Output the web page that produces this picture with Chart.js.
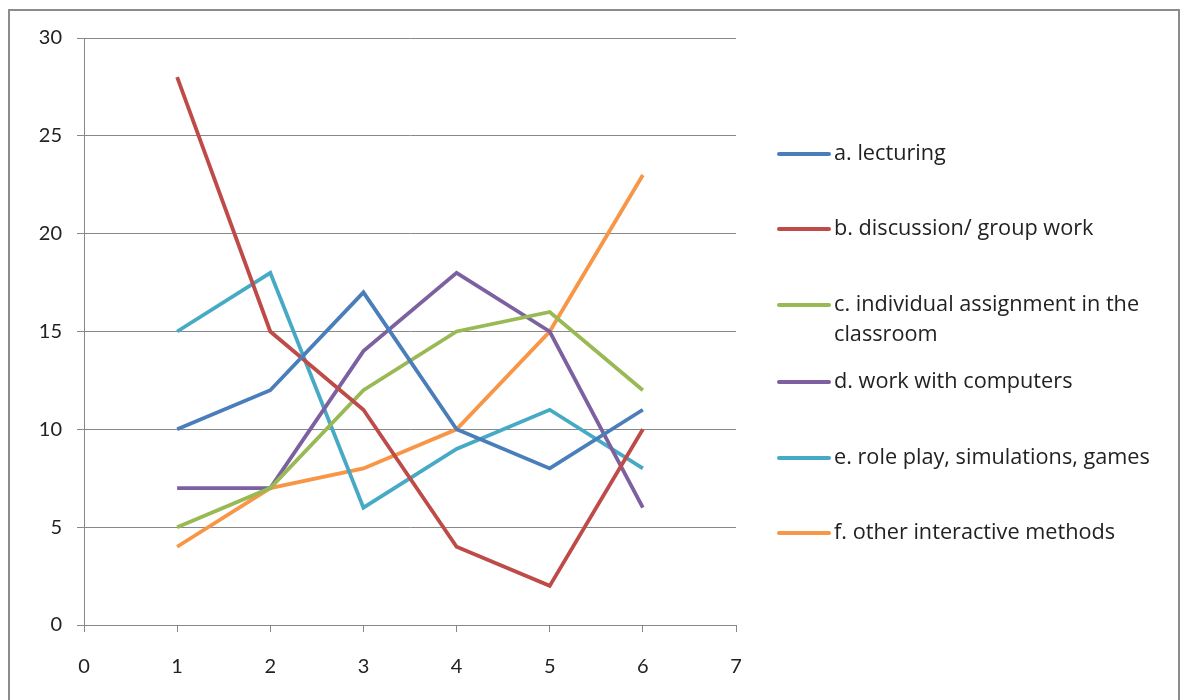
<!DOCTYPE html>
<html><head><meta charset="utf-8">
<script src="https://cdn.jsdelivr.net/npm/chart.js@4"></script>
<style>html,body{margin:0;padding:0;background:#fff;}#wrap{width:1182px;height:700px;position:relative;}</style>
</head><body><div id="wrap"><canvas id="c" width="1182" height="700"></canvas></div>
<script>
const xValues = [1, 2, 3, 4, 5, 6];
const seriesNames = ["a. lecturing", "b. discussion/ group work", "c. individual assignment in the classroom", "d. work with computers", "e. role play, simulations, games", "f. other interactive methods"];
const legendLines = [["a. lecturing"], ["b. discussion/ group work"], ["c. individual assignment in the", "classroom"], ["d. work with computers"], ["e. role play, simulations, games"], ["f. other interactive methods"]];
const lecturing = [10, 12, 17, 10, 8, 11];
const discussion = [28, 15, 11, 4, 2, 10];
const individual = [5, 7, 12, 15, 16, 12];
const computers = [7, 7, 14, 18, 15, 6];
const rolePlay = [15, 18, 6, 9, 11, 8];
const otherMethods = [4, 7, 8, 10, 15, 23];
const colors = ["#4a7ebb", "#be4b48", "#98b954", "#7d60a0", "#46aac5", "#f79646"];
const allSeries = [lecturing, discussion, individual, computers, rolePlay, otherMethods];

const FONT = "Lato, 'Open Sans', sans-serif";
const LEG_FONT = "'Open Sans', sans-serif";

const frame = {
  id: 'frame',
  beforeDraw(chart) {
    const ctx = chart.ctx;
    ctx.save();
    ctx.fillStyle = '#fff';
    ctx.fillRect(0, 0, chart.width, chart.height);
    ctx.strokeStyle = '#8c8c8c';
    ctx.lineWidth = 2;
    ctx.strokeRect(9, 10, 1170, 700);
    ctx.restore();
  },
  afterDraw(chart) {
    const ctx = chart.ctx;
    const legY = [154, 229, 305, 382, 458, 533];
    ctx.save();
    ctx.lineCap = 'round';
    ctx.font = "21.7px " + LEG_FONT;
    ctx.textBaseline = 'middle';
    ctx.fillStyle = '#222';
    chart.data.datasets.forEach((ds, i) => {
      ctx.strokeStyle = ds.borderColor;
      ctx.lineWidth = 4;
      ctx.beginPath();
      ctx.moveTo(779, legY[i]);
      ctx.lineTo(829, legY[i]);
      ctx.stroke();
      legendLines[i].forEach((t, j) => ctx.fillText(t, 834, legY[i] + j * 30));
    });
    ctx.restore();
  }
};

new Chart(document.getElementById('c'), {
  type: 'line',
  data: {
    datasets: allSeries.map((s, i) => ({
      label: seriesNames[i],
      data: s.map((v, k) => ({x: xValues[k], y: v})),
      borderColor: colors[i],
      backgroundColor: colors[i],
      borderWidth: 3.8,
      pointRadius: 0,
      tension: 0,
      fill: false
    }))
  },
  options: {
    responsive: false,
    animation: false,
    layout: {padding: {left: 0, top: 38, right: 1182 - 736, bottom: 0}},
    plugins: {legend: {display: false}, tooltip: {enabled: false}},
    scales: {
      x: {
        type: 'linear', min: 0, max: 7,
        ticks: {stepSize: 1, color: '#222', font: {size: 20, family: FONT}, padding: 23},
        grid: {drawOnChartArea: false, drawTicks: true, tickLength: 7, color: '#888'},
        border: {color: '#888', width: 1},
        afterFit(s) { s.height = 75; }
      },
      y: {
        min: 0, max: 30,
        ticks: {stepSize: 5, color: '#222', font: {size: 20, family: FONT}, padding: 15},
        grid: {color: '#888', tickLength: 7, lineWidth: 1},
        border: {color: '#888', width: 1},
        afterFit(s) { s.width = 84; }
      }
    }
  },
  plugins: [frame]
});
</script></body></html>
